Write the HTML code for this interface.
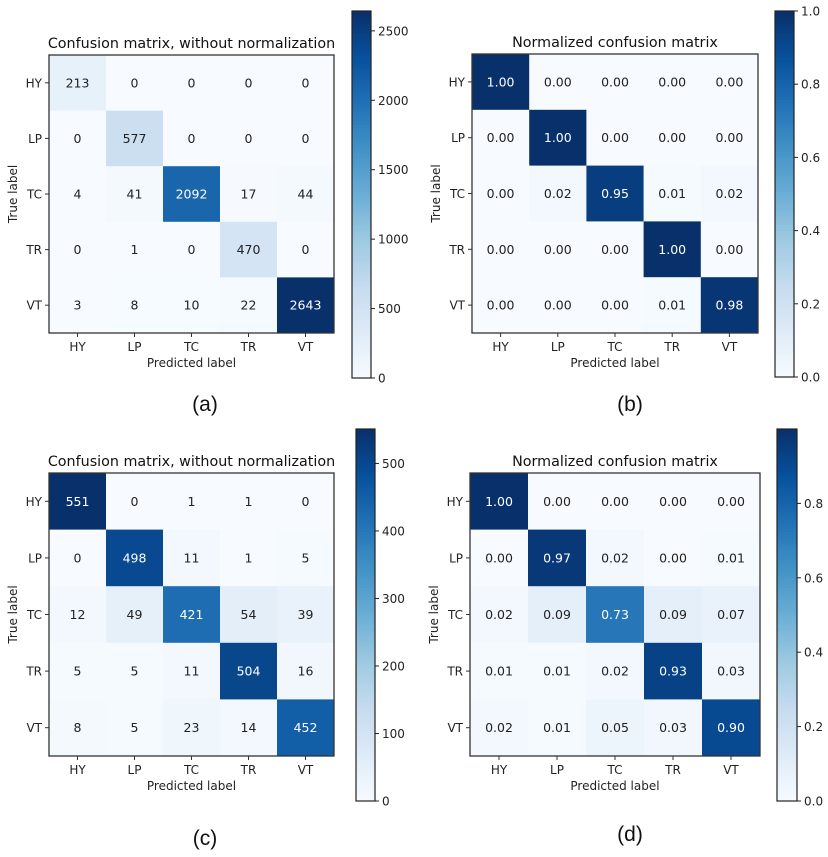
<!DOCTYPE html>
<html><head><meta charset="utf-8">
<style>
html,body{margin:0;padding:0;background:#fff;}
svg{display:block;font-family:"DejaVu Sans","Liberation Sans",sans-serif;}
</style></head>
<body>
<svg id="fig" width="828" height="857" viewBox="0 0 828 857" xmlns="http://www.w3.org/2000/svg"></svg>
<script>
const classLabels = ["HY","LP","TC","TR","VT"];
const countsA = [[213,0,0,0,0],[0,577,0,0,0],[4,41,2092,17,44],[0,1,0,470,0],[3,8,10,22,2643]];
const normB = [[1.00,0.00,0.00,0.00,0.00],[0.00,1.00,0.00,0.00,0.00],[0.00,0.02,0.95,0.01,0.02],[0.00,0.00,0.00,1.00,0.00],[0.00,0.00,0.00,0.01,0.98]];
const countsC = [[551,0,1,1,0],[0,498,11,1,5],[12,49,421,54,39],[5,5,11,504,16],[8,5,23,14,452]];
const normD = [[1.00,0.00,0.00,0.00,0.00],[0.00,0.97,0.02,0.00,0.01],[0.02,0.09,0.73,0.09,0.07],[0.01,0.01,0.02,0.93,0.03],[0.02,0.01,0.05,0.03,0.90]];
const ticksA = [0,500,1000,1500,2000,2500];
const ticksB = [0,0.2,0.4,0.6,0.8,1.0];
const ticksC = [0,100,200,300,400,500];
const ticksD = [0,0.2,0.4,0.6,0.8];

const NS="http://www.w3.org/2000/svg";
const svg=document.getElementById('fig');
const stops=[[247,251,255],[222,235,247],[198,219,239],[158,202,225],[107,174,214],[66,146,198],[33,113,181],[8,81,156],[8,48,107]];
function blues(t){t=Math.max(0,Math.min(1,t));const p=t*8;const i=Math.min(7,Math.floor(p));const f=p-i;
 const c=stops[i].map((v,k)=>Math.round(v+(stops[i+1][k]-v)*f));return `rgb(${c[0]},${c[1]},${c[2]})`;}
function mk(tag,attrs,parent){const e=document.createElementNS(NS,tag);for(const k in attrs)e.setAttribute(k,attrs[k]);(parent||svg).appendChild(e);return e;}
function txt(s,attrs,parent){const e=mk('text',attrs,parent);e.textContent=s;return e;}

function panel(cfg){
 const g=mk('g',{});
 
 
 const {x0,y0,x1,y1,data,vmax,fmt,ticks,cb,title,letter,lx,ly,tickFmt}=cfg;
 const n=classLabels.length, cw=(x1-x0)/n, ch=(y1-y0)/n;
 const xs=i=>x0+i*cw, ys=j=>y0+j*ch;
 for(let r=0;r<n;r++)for(let c=0;c<n;c++){
  const v=data[r][c];
  const rc=mk('rect',{x:xs(c),y:ys(r),width:cw+0.5,height:ch+0.5,fill:blues(v/vmax)},g);
  
  
  const t=txt(fmt(v),{x:xs(c)+cw/2,y:ys(r)+ch/2+4.5,'text-anchor':'middle','font-size':'12.5',fill:v>vmax/2?'#fff':'#222'},g);
  
  
 }
 mk('rect',{x:x0,y:y0,width:x1-x0,height:y1-y0,fill:'none',stroke:'#333','stroke-width':1.3},g);
 for(let i=0;i<n;i++){
  mk('line',{x1:xs(i)+cw/2,x2:xs(i)+cw/2,y1:y1,y2:y1+4,stroke:'#333'},g);
  const xl=txt(classLabels[i],{x:xs(i)+cw/2,y:y1+18,'text-anchor':'middle','font-size':'12',fill:'#222'},g);
  
  
  mk('line',{x1:x0-4,x2:x0,y1:ys(i)+ch/2,y2:ys(i)+ch/2,stroke:'#333'},g);
  const yl=txt(classLabels[i],{x:x0-7,y:ys(i)+ch/2+4.5,'text-anchor':'end','font-size':'12',fill:'#222'},g);
  
  
 }
 const tt=txt(title,{x:(x0+x1)/2,y:y0-7,'text-anchor':'middle','font-size':'14.3',fill:'#111'},g);
 
 
 const xt=txt('Predicted label',{x:(x0+x1)/2,y:y1+34,'text-anchor':'middle','font-size':'12',fill:'#222'},g);
 
 
 const yt=txt('True label',{x:0,y:0,'text-anchor':'middle','font-size':'12',fill:'#222',transform:`translate(${x0-32},${(y0+y1)/2}) rotate(-90)`},g);
 
 
 const [cx0,cy0,cx1,cy1]=cb;
 const steps=120, hh=(cy1-cy0)/steps;
 for(let k=0;k<steps;k++){
  mk('rect',{x:cx0,y:cy1-(k+1)*hh,width:cx1-cx0,height:hh+0.6,fill:blues((k+0.5)/steps)},g);
 }
 const cbo=mk('rect',{x:cx0,y:cy0,width:cx1-cx0,height:cy1-cy0,fill:'none',stroke:'#222','stroke-width':1.2},g);
 
 
 const cyS=v=>cy1-(v/vmax)*(cy1-cy0);
 ticks.forEach(v=>{
  const y=cyS(v);
  mk('line',{x1:cx1,x2:cx1+4,y1:y,y2:y,stroke:'#222'},g);
  const l=txt(tickFmt(v),{x:cx1+7,y:y+4.5,'font-size':'12',fill:'#222'},g);
  
  
 });
 const lt=txt(letter,{x:lx,y:ly,'text-anchor':'middle','font-size':'21',fill:'#111','font-family':'Liberation Sans, sans-serif'},g);
 
 
}
const maxOf=d=>Math.max(...d.flat());
panel({name:'panel-a',x0:49,y0:55,x1:334,y1:333,data:countsA,vmax:maxOf(countsA),fmt:v=>String(v),ticks:ticksA,tickFmt:v=>String(v),cb:[352,11,371,378],title:'Confusion matrix, without normalization',letter:'(a)',lx:205,ly:411});
panel({name:'panel-b',x0:472,y0:54,x1:758,y1:333,data:normB,vmax:1,fmt:v=>v.toFixed(2),ticks:ticksB,tickFmt:v=>v.toFixed(1),cb:[775,11,794,377],title:'Normalized confusion matrix',letter:'(b)',lx:630,ly:411});
panel({name:'panel-c',x0:49,y0:473,x1:334,y1:756,data:countsC,vmax:maxOf(countsC),fmt:v=>String(v),ticks:ticksC,tickFmt:v=>String(v),cb:[356,429,375,801],title:'Confusion matrix, without normalization',letter:'(c)',lx:205,ly:845});
panel({name:'panel-d',x0:470,y0:473,x1:760,y1:756,data:normD,vmax:1,fmt:v=>v.toFixed(2),ticks:ticksD,tickFmt:v=>v.toFixed(1),cb:[777,429,797,801],title:'Normalized confusion matrix',letter:'(d)',lx:630,ly:841});
</script>
</body></html>
